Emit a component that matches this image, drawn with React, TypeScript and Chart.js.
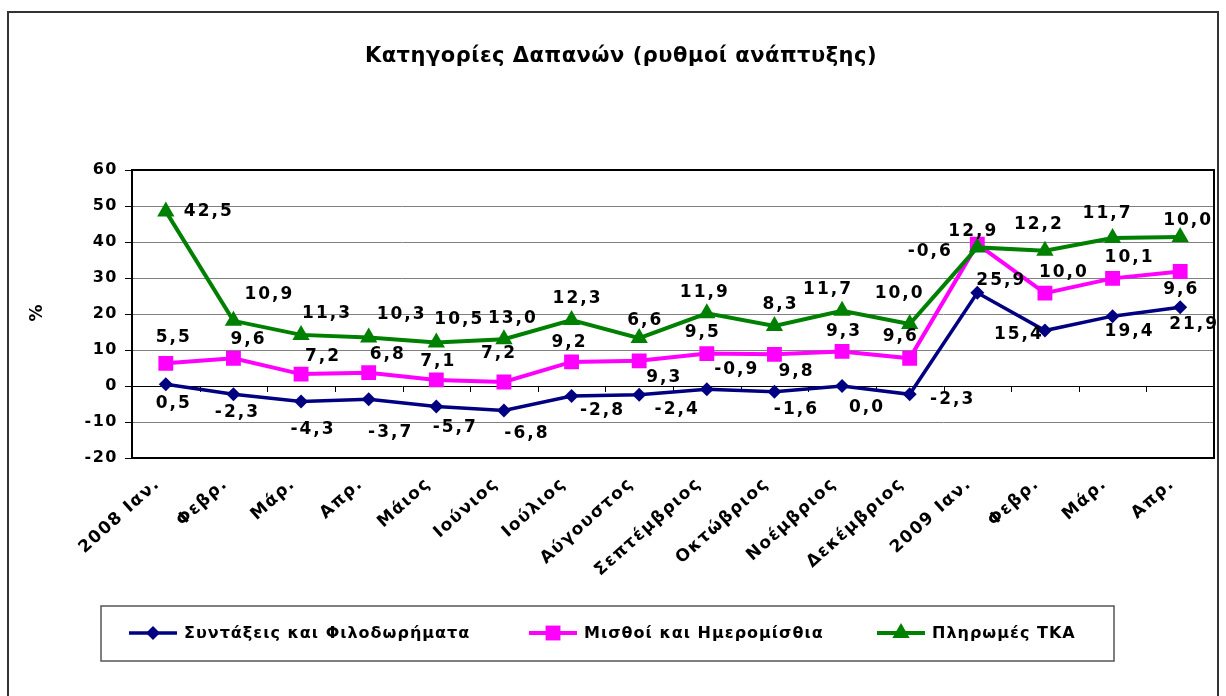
import React, { useEffect, useRef } from "react";
import { Chart, registerables } from "chart.js";

Chart.register(...registerables);

const categories = [
  "2008 Ιαν.", "Φεβρ.", "Μάρ.", "Απρ.", "Μάιος", "Ιούνιος", "Ιούλιος", "Αύγουστος",
  "Σεπτέμβριος", "Οκτώβριος", "Νοέμβριος", "Δεκέμβριος", "2009 Ιαν.", "Φεβρ.", "Μάρ.", "Απρ.",
];

const seriesNames = ["Συντάξεις και Φιλοδωρήματα", "Μισθοί και Ημερομίσθια", "Πληρωμές ΤΚΑ"];

const pensions = [0.5, -2.3, -4.3, -3.7, -5.7, -6.8, -2.8, -2.4, -0.9, -1.6, 0.0, -2.3, 25.9, 15.4, 19.4, 21.9];
const pensionsLabels = ["0,5", "-2,3", "-4,3", "-3,7", "-5,7", "-6,8", "-2,8", "-2,4", "-0,9", "-1,6", "0,0", "-2,3", "25,9", "15,4", "19,4", "21,9"];

const wages = [6.3, 7.7, 3.3, 3.7, 1.7, 1.1, 6.7, 7.0, 9.0, 8.8, 9.6, 7.7, 39.4, 25.8, 29.9, 31.8];
const wagesLabels = ["5,5", "9,6", "7,2", "6,8", "7,1", "7,2", "9,2", "9,3", "9,5", "9,8", "9,3", "9,6", "12,9", "10,0", "10,1", "9,6"];

const tka = [48.5, 18.1, 14.2, 13.5, 12.1, 13.0, 18.3, 13.3, 20.2, 16.7, 20.9, 17.2, 38.5, 37.6, 41.1, 41.4];
const tkaLabels = ["42,5", "10,9", "11,3", "10,3", "10,5", "13,0", "12,3", "6,6", "11,9", "8,3", "11,7", "10,0", "-0,6", "12,2", "11,7", "10,0"];

const yMin = -20;
const yMax = 60;
const yStep = 10;

const titleText = "Κατηγορίες Δαπανών (ρυθμοί ανάπτυξης)";
const yAxisTitle = "%";

// label placement (pixel offsets from each point, styling only)
const labelOffsets: number[][][] = [
  [[7, 19], [3, 18], [11, 28], [21, 33], [18, 21], [22, 23], [30, 14], [37, 15], [29, -20], [21, 18], [24, 22], [42, 5], [23, -12], [-27, 4], [16, 15], [13, 17]],
  [[7, -26], [14, -19], [21, -18], [18, -18], [1, -18], [-6, -28], [-3, -19], [24, 17], [-5, -21], [21, 17], [1, -20], [-10, -22], [-5, -13], [18, -21], [16, -21], [0, 18]],
  [[42, 0], [35, -26], [25, -21], [32, -23], [22, -23], [8, -21], [5, -22], [5, -18], [-3, -21], [5, -21], [-15, -21], [-11, -31], [-48, 4], [-7, -26], [-6, -24], [7, -16]],
];

const FONT = "'DejaVu Sans', Verdana, sans-serif";
const colors = ["#000080", "#FF00FF", "#008000"];
const styles = ["rectRot", "rect", "triangle"];
const radii = [7, 10.5, 10];
const lineWidths = [3.5, 4, 4];

const W = 1226;
const H = 696;

function drawMarker(ctx: CanvasRenderingContext2D, style: string, x: number, y: number, r: number) {
  ctx.beginPath();
  if (style === "rectRot") {
    ctx.moveTo(x - r, y);
    ctx.lineTo(x, y - r);
    ctx.lineTo(x + r, y);
    ctx.lineTo(x, y + r);
  } else if (style === "rect") {
    const s = Math.SQRT1_2 * r;
    ctx.rect(x - s, y - s, 2 * s, 2 * s);
  } else {
    const a = (2 * Math.PI) / 3;
    ctx.moveTo(x, y - r);
    ctx.lineTo(x + Math.sin(a) * r, y - Math.cos(a) * r);
    ctx.lineTo(x - Math.sin(a) * r, y - Math.cos(a) * r);
  }
  ctx.closePath();
  ctx.fill();
}

const decorPlugin = {
  id: "decor",
  beforeDraw(chart: any) {
    const ctx = chart.ctx;
    ctx.save();
    ctx.fillStyle = "#fff";
    ctx.fillRect(0, 0, W, H);
    ctx.strokeStyle = "#333";
    ctx.lineWidth = 2;
    ctx.strokeRect(8, 12, 1210, 1000);
    // title
    ctx.fillStyle = "#000";
    ctx.font = `bold 21px ${FONT}`;
    ctx.textAlign = "center";
    ctx.textBaseline = "middle";
    (ctx as any).letterSpacing = "0.5px";
    ctx.fillText(titleText, 621, 57);
    // y title
    ctx.save();
    ctx.translate(38, 313);
    ctx.rotate(-Math.PI / 2);
    ctx.font = `bold 17px ${FONT}`;
    (ctx as any).letterSpacing = "0px";
    ctx.fillText(yAxisTitle, 0, 0);
    ctx.restore();
    ctx.restore();
    // wider spacing for axis tick texts
    (ctx as any).letterSpacing = "1.5px";
  },
  beforeDatasetsDraw(chart: any) {
    const ctx = chart.ctx;
    const a = chart.chartArea;
    const ys = chart.scales.y;
    const xs = chart.scales.x;
    ctx.save();
    ctx.strokeStyle = "#000";
    ctx.lineWidth = 2;
    ctx.strokeRect(a.left, a.top, a.right - a.left, a.bottom - a.top);
    // category tick marks on the zero line
    const y0 = ys.getPixelForValue(0);
    const step = (a.right - a.left) / categories.length;
    ctx.lineWidth = 1;
    ctx.beginPath();
    for (let i = 0; i <= categories.length; i++) {
      const x = Math.round(xs.getPixelForValue(i) - step / 2) + 0.5;
      ctx.moveTo(x, y0);
      ctx.lineTo(x, y0 + 6);
    }
    ctx.stroke();
    ctx.restore();
  },
  afterDatasetsDraw(chart: any) {
    const ctx = chart.ctx;
    const labelSets = [pensionsLabels, wagesLabels, tkaLabels];
    ctx.save();
    ctx.fillStyle = "#000";
    ctx.font = `bold 17px ${FONT}`;
    (ctx as any).letterSpacing = "2px";
    ctx.textAlign = "center";
    ctx.textBaseline = "middle";
    labelSets.forEach((labels, di) => {
      const meta = chart.getDatasetMeta(di);
      meta.data.forEach((pt: any, i: number) => {
        const off = labelOffsets[di][i];
        ctx.fillText(labels[i], pt.x + off[0] + 1, pt.y + off[1]);
      });
    });
    ctx.restore();
  },
  afterDraw(chart: any) {
    const ctx = chart.ctx;
    ctx.save();
    // legend box
    ctx.strokeStyle = "#555";
    ctx.lineWidth = 1.5;
    ctx.strokeRect(101, 606, 1013, 55);
    const cy = 633;
    const starts = [129, 529, 877];
    ctx.font = `bold 16px ${FONT}`;
    (ctx as any).letterSpacing = "1px";
    ctx.textAlign = "left";
    ctx.textBaseline = "middle";
    seriesNames.forEach((name, i) => {
      const x0 = starts[i];
      ctx.strokeStyle = colors[i];
      ctx.lineWidth = lineWidths[i];
      ctx.beginPath();
      ctx.moveTo(x0, cy);
      ctx.lineTo(x0 + 48, cy);
      ctx.stroke();
      ctx.fillStyle = colors[i];
      drawMarker(ctx, styles[i], x0 + 24, cy, radii[i]);
      ctx.fillStyle = "#000";
      ctx.fillText(name, x0 + 55, cy + 1);
    });
    ctx.restore();
  },
};

export default function App() {
  const ref = useRef<HTMLCanvasElement | null>(null);
  useEffect(() => {
    if (!ref.current) return;
    const values = [pensions, wages, tka];
    const chart = new Chart(ref.current, {
      type: "line",
      data: {
        labels: categories,
        datasets: values.map((v, i) => ({
          label: seriesNames[i],
          data: v,
          borderColor: colors[i],
          backgroundColor: colors[i],
          borderWidth: lineWidths[i],
          pointStyle: styles[i] as any,
          pointRadius: radii[i],
          pointBorderWidth: 0,
          pointBackgroundColor: colors[i],
          order: 2 - i,
          tension: 0,
          fill: false,
        })),
      },
      options: {
        animation: false,
        responsive: false,
        devicePixelRatio: 1,
        layout: { padding: { left: 72, right: 12, top: 170, bottom: 98 } },
        plugins: {
          legend: { display: false },
          title: { display: false },
          tooltip: { enabled: false },
        },
        scales: {
          x: {
            offset: true,
            grid: { display: false, drawTicks: false },
            border: { display: false },
            ticks: {
              autoSkip: false,
              minRotation: 42,
              maxRotation: 42,
              color: "#000",
              font: { family: FONT, size: 17, weight: "bold" },
              padding: 16,
              labelOffset: -8,
            },
            afterFit: (s: any) => {
              s.height = 140;
            },
          },
          y: {
            min: yMin,
            max: yMax,
            ticks: {
              stepSize: yStep,
              color: "#000",
              font: { family: FONT, size: 16, weight: "bold" },
              padding: 7,
            },
            grid: {
              color: (c: any) => (c.tick && c.tick.value === 0 ? "#000" : "#808080"),
              lineWidth: 1,
              tickLength: 7,
              tickColor: "#000",
            },
            border: { display: false },
            afterFit: (s: any) => {
              s.width = 60;
            },
          },
        },
      },
      plugins: [decorPlugin],
    });
    return () => chart.destroy();
  }, []);
  return (
    <div style={{ position: "fixed", left: 0, top: 0, width: W, height: H, background: "#fff" }}>
      <canvas ref={ref} width={W} height={H} style={{ display: "block" }} />
    </div>
  );
}
